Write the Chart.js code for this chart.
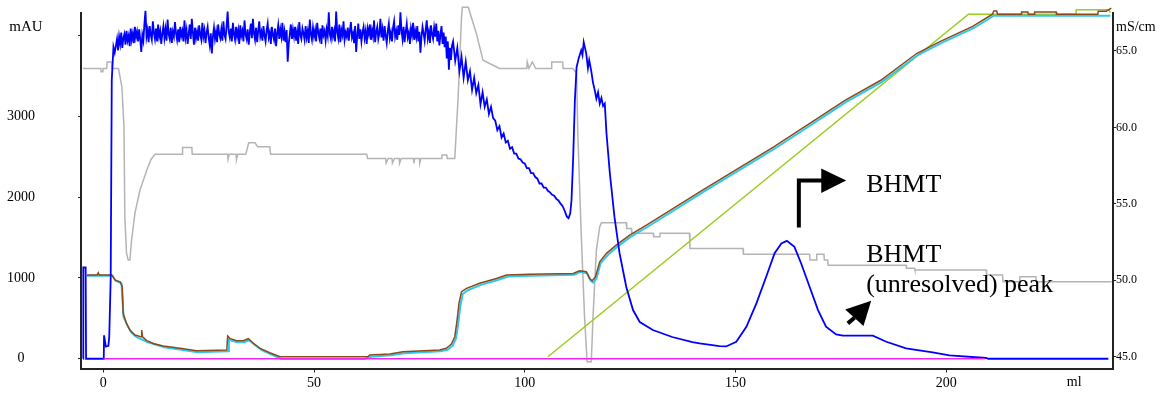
<!DOCTYPE html>
<html lang="en">
<head>
<meta charset="UTF-8" />
<title>BHMT chromatogram</title>
<script src="https://cdn.jsdelivr.net/npm/chart.js"></script>
<style>
  html, body { margin: 0; padding: 0; background: #fff; }
</style>
</head>
<body>
<canvas id="chromatogram" width="1170" height="393"></canvas>
<script>
// ---- axis ticks ----
const mlTicks = [0, 50, 100, 150, 200];
const mauTicks = [0, 1000, 2000, 3000, 4000];
const condTicks = [45, 50, 55, 60, 65];

// ---- UV 280 nm (mAU), blue ----
const uvHead = [[-4.8, 0], [-4.75, 1130], [-4.2, 1130], [-4.1, 0], [0.1, 0], [0.17, 290], [0.6, 150], [1.2, 160],
  [1.4, 270], [1.75, 1000], [2.0, 3450], [2.4, 3860], [2.7, 3790]];
// detector saturated, sampled every 0.25 ml from 3.0 ml (one row = 5 ml)
const uvNoiseStart = 3.0;
const uvNoiseStep = 0.25;
const uvNoise = [
  3880, 3960, 3820, 3990, 3900, 4040, 3850, 3970, 4020, 3890, 4060, 3940, 4000, 3870, 4090, 3950, 4030, 3910, 4110, 3980,
  4050, 3930, 4080, 3960, 3800, 4010, 3940, 4150, 4310, 3990, 4070, 3920, 4120, 4010, 3950, 4180, 4040, 3960, 4090, 3930,
  4140, 3990, 4060, 3900, 4030, 4120, 3970, 4080, 3940, 4200, 4020, 3960, 4100, 3910, 4050, 3990, 4170, 4030, 3950, 4080,
  3920, 4110, 4000, 4060, 3930, 4190, 3980, 4070, 3900, 4020, 4140, 3960, 4210, 4040, 3890, 4100, 3970, 4050, 3940, 4130,
  4010, 3950, 4160, 3990, 4070, 3910, 4040, 4110, 3970, 3880, 4030, 3780, 3990, 4100, 3960, 4050, 3920, 4140, 4020, 3970,
  4080, 3940, 4180, 4010, 3960, 4120, 4300, 4050, 3980, 4090, 3930, 4160, 4020, 3950, 4110, 3990, 4070, 3900, 4130, 4000,
  4060, 3930, 4190, 4020, 3960, 4080, 3890, 4040, 4150, 3970, 4210, 4030, 3950, 4100, 3920, 4060, 4180, 3990, 4050, 3940,
  4120, 4000, 3930, 4070, 4150, 3980, 4040, 3900, 4110, 4010, 3950, 4090, 3870, 4030, 4130, 3960, 4080, 3990, 4160, 3940,
  4050, 3920, 4070, 3680, 3900, 4020, 4140, 3960, 4080, 3990, 4110, 3940, 4050, 3900, 4170, 4010, 3960, 4090, 4030, 3950,
  4120, 3980, 4060, 3910, 4200, 4020, 3950, 4100, 3990, 4070, 3930, 4160, 4040, 3970, 4090, 3900, 4130, 4010, 4060, 3940,
  4080, 4000, 4290, 4020, 3960, 4110, 3990, 4060, 3930, 4300, 4050, 3970, 4140, 3920, 4070, 4010, 4180, 3950, 4040, 3990,
  4100, 3940, 4060, 4170, 3980, 4030, 3910, 4120, 3800, 4000, 4150, 3960, 4080, 3930, 4040, 4110, 3970, 4060, 3900, 4090,
  4020, 4140, 3950, 4070, 3990, 4190, 3920, 4050, 4110, 3960, 4030, 4210, 3980, 4080, 3940, 4120, 4000, 3910, 4060, 4150,
  3970, 4040, 3930, 4100, 4180, 3990, 4060, 3950, 4130, 4010, 4290, 4070, 3960, 4110, 3920, 4050, 4150, 3980, 4040, 3900,
  4090, 4010, 4160, 3950, 4060, 3980, 4120, 3930, 4050, 3790, 3990, 4110, 4030, 3940, 4080, 4190, 3970, 4050, 3910, 4130,
  4020, 3960, 4100, 3990, 4150, 3930, 4060, 3880, 4010, 4120, 3900, 4040, 3860, 3990, 3720, 3930, 3580, 3850, 3700, 3880
];
// falling edge, sampled every 0.5 ml from 83.0 ml
const uvDeclineStart = 83.0;
const uvDeclineStep = 0.5;
const uvDecline = [
  3930, 3690, 3850, 3560, 3740, 3480, 3680, 3450, 3560, 3330, 3480, 3290, 3390, 3150, 3300, 3120, 3210, 3030, 3120, 2980,
  2950, 2830, 2880, 2740, 2790, 2680, 2700, 2600, 2620, 2540, 2540, 2480, 2470, 2430, 2420, 2360, 2360, 2300, 2300, 2250,
  2230, 2170, 2170, 2120, 2120, 2080, 2060, 2030, 2020, 1980, 1960, 1920, 1890, 1830, 1760
];
const uvTail = [[110.4, 1740], [110.8, 1800], [111.1, 1964], [111.5, 2496], [111.9, 3200], [112.3, 3610], [112.8, 3720],
  [113.4, 3820], [113.7, 3760], [114.0, 3920], [114.3, 3850], [114.6, 3780], [115.0, 3600], [115.3, 3700], [115.8, 3560],
  [116.2, 3420], [116.6, 3330], [117.0, 3220], [117.4, 3300], [117.8, 3160], [118.2, 3230], [118.6, 3130], [119.0, 3160],
  [119.4, 2792], [120.2, 2297], [121.3, 1753], [122.5, 1307], [124.1, 888], [125.7, 603], [127.3, 455], [130.4, 356],
  [135.0, 269], [139.8, 207], [141.5, 190], [146.2, 157], [147.8, 152], [150.2, 210], [152.6, 396], [155.0, 689],
  [157.3, 1015], [159.3, 1308], [160.9, 1428], [162.2, 1460], [164.0, 1386], [165.6, 1180], [167.6, 891], [169.6, 603],
  [171.5, 396], [173.9, 302], [175.5, 285], [182.6, 285], [185.8, 210], [190.5, 129], [196.8, 79], [200.8, 42],
  [209.5, 9], [210.0, 0], [238.5, 0]];

// ---- second UV channel (mAU), magenta ----
const uvBaseline = [[0, 0], [209.2, 0]];

// ---- conductivity (mS/cm), brown and cyan ----
const condBrown = [[-3.9, 50.34], [-1.5, 50.34], [-1.2, 50.49], [-1.0, 50.34], [2.0, 50.34], [2.8, 50.01], [4.0, 49.9],
  [4.5, 49.58], [4.7, 47.84], [5.5, 47.18], [6.3, 46.75], [7.5, 46.42], [9.0, 46.3], [9.1, 46.75], [9.3, 46.3],
  [10.3, 46.05], [12.0, 45.85], [14.2, 45.7], [18.2, 45.55], [22.1, 45.39], [29.3, 45.44], [29.5, 46.35], [30.0, 46.2],
  [31.6, 46.05], [33.2, 46.05], [34.4, 46.18], [35.6, 45.88], [37.2, 45.55], [39.5, 45.26], [41.9, 45.0], [62.8, 45.0],
  [63.2, 45.11], [68.0, 45.18], [71.1, 45.33], [79.8, 45.44], [81.4, 45.55], [82.6, 45.83], [83.4, 46.31], [83.9, 47.29],
  [84.4, 48.49], [85.0, 49.25], [86.2, 49.47], [89.3, 49.8], [93.3, 50.12], [95.7, 50.34], [101.2, 50.39], [111.5, 50.45],
  [113.0, 50.62], [114.6, 50.56], [115.4, 50.12], [116.0, 49.97], [116.8, 50.23], [117.8, 51.21], [119.4, 51.76],
  [121.7, 52.3], [124.9, 52.95], [128.9, 53.61], [142.2, 55.9], [159.1, 58.73], [176.1, 61.78], [184.5, 63.08],
  [193.0, 64.83], [198.4, 65.59], [206.3, 66.6], [211.0, 67.4], [211.3, 67.61], [212.0, 67.61], [212.2, 67.4],
  [217.8, 67.4], [217.9, 67.55], [219.4, 67.55], [219.5, 67.4], [220.9, 67.4], [221.0, 67.55], [226.1, 67.55],
  [226.2, 67.4], [236.0, 67.4], [236.1, 67.6], [238.0, 67.6], [239.2, 67.8]];
const condCyan = [[-3.9, 50.3], [2.2, 50.3], [3.0, 49.95], [4.3, 49.8], [4.8, 47.6], [5.7, 47.05], [6.6, 46.6],
  [7.8, 46.3], [10.6, 45.95], [14.5, 45.62], [18.5, 45.45], [22.4, 45.3], [29.6, 45.35], [29.8, 46.1], [31.8, 45.95],
  [33.4, 45.95], [34.6, 46.08], [35.9, 45.78], [37.5, 45.45], [39.8, 45.15], [42.2, 44.85], [62.0, 44.85], [63.5, 45.0],
  [68.3, 45.1], [71.4, 45.22], [80.0, 45.36], [81.7, 45.45], [82.9, 45.72], [83.7, 46.2], [84.2, 47.1], [84.7, 48.3],
  [85.3, 49.1], [86.5, 49.35], [89.6, 49.7], [93.6, 50.02], [96.0, 50.25], [101.5, 50.3], [111.8, 50.36], [113.2, 50.55],
  [114.8, 50.45], [115.6, 50.0], [116.2, 49.85], [117.0, 50.1], [118.0, 51.1], [119.7, 51.65], [122.0, 52.2],
  [125.2, 52.85], [129.2, 53.5], [142.5, 55.8], [159.4, 58.62], [176.4, 61.68], [184.8, 62.98], [193.3, 64.73],
  [198.7, 65.5], [206.6, 66.5], [211.3, 67.3], [239.0, 67.3]];

// ---- gradient (plotted on the mS/cm scale), green ----
const gradient = [[105.5, 45.0], [205.3, 67.4], [230.8, 67.4], [230.9, 67.7], [238.5, 67.7], [239.0, 67.5]];

// ---- pressure / pH trace (plotted on the mS/cm scale), grey ----
const greyTrace = [[-4.8, 63.85], [-0.6, 63.85], [-0.5, 63.63], [-0.2, 63.63], [-0.1, 63.85], [0.8, 63.85], [0.9, 64.28],
  [2.0, 64.28], [2.1, 63.85], [3.6, 63.85], [4.4, 62.65], [4.9, 60.03], [5.1, 54.15], [5.5, 51.78], [5.9, 51.32],
  [6.3, 51.32], [6.7, 52.63], [7.5, 54.39], [8.7, 55.9], [10.3, 57.2], [11.3, 57.9], [12.3, 58.25], [18.7, 58.25],
  [18.8, 58.69], [21.0, 58.69], [21.1, 58.25], [29.5, 58.25], [29.6, 57.9], [29.9, 58.25], [31.5, 58.25], [31.6, 57.9],
  [31.9, 58.25], [33.8, 58.25], [34.5, 58.99], [36.0, 58.99], [36.6, 58.73], [39.5, 58.73], [39.7, 58.25], [62.5, 58.25],
  [62.7, 57.97], [67.0, 57.97], [67.1, 57.66], [67.6, 57.97], [68.5, 57.97], [68.6, 57.66], [69.1, 57.97], [70.2, 57.97],
  [70.3, 57.66], [70.7, 57.97], [73.6, 57.97], [73.7, 57.66], [73.9, 57.97], [75.0, 57.97], [75.1, 57.66], [75.4, 57.97],
  [80.3, 57.97], [80.4, 58.2], [81.5, 58.2], [81.6, 57.97], [83.4, 57.97], [84.2, 61.99], [85.0, 67.2], [85.2, 67.86],
  [86.6, 67.86], [88.5, 66.16], [90.1, 64.39], [93.3, 63.95], [94.0, 63.85], [100.5, 63.85], [100.6, 64.28], [101.0, 63.85],
  [101.8, 64.28], [102.6, 63.85], [106.3, 63.85], [106.4, 64.28], [109.0, 64.28], [109.1, 63.85], [111.4, 63.85],
  [112.3, 63.54], [112.6, 59.62], [113.4, 53.08], [114.2, 47.59], [114.8, 44.67], [115.8, 44.67], [116.2, 47.59],
  [117.0, 51.97], [117.8, 53.5], [118.2, 53.76], [124.1, 53.76], [124.2, 53.39], [125.3, 53.39], [125.4, 53.07],
  [130.5, 53.07], [130.6, 52.84], [132.0, 52.84], [132.1, 53.07], [139.1, 53.07], [139.2, 52.08], [151.8, 52.08],
  [151.9, 51.71], [167.6, 51.71], [167.7, 51.32], [169.2, 51.32], [169.3, 51.71], [171.0, 51.71], [171.1, 51.32],
  [171.9, 51.32], [172.0, 50.99], [190.5, 50.99], [190.6, 50.78], [192.5, 50.78], [192.6, 50.67], [209.5, 50.67],
  [209.6, 50.34], [213.4, 50.34], [213.5, 49.9], [217.4, 49.9], [217.5, 50.23], [221.3, 50.23], [221.4, 49.9],
  [239.3, 49.9]];

const SERIF = "'Liberation Serif', 'Times New Roman', serif";
Chart.defaults.font.family = SERIF;
Chart.defaults.color = '#000';

function toPoints(pairs) {
    return pairs.map(p => ({ x: p[0], y: p[1] }));
}

function sampled(values, start, step) {
    return values.map((v, i) => ({ x: start + i * step, y: v }));
}

const uvPoints = toPoints(uvHead)
    .concat(sampled(uvNoise, uvNoiseStart, uvNoiseStep))
    .concat(sampled(uvDecline, uvDeclineStart, uvDeclineStep))
    .concat(toPoints(uvTail));

function line(data, color, width, axis) {
    return {
        data: data,
        yAxisID: axis,
        borderColor: color,
        borderWidth: width,
        pointRadius: 0,
        tension: 0,
        fill: false,
        clip: false
    };
}

// the big tick padding used to centre the left labels would also pad the chart top/bottom
function fitVertical(width) {
    return s => {
        s.width = width;
        s.paddingTop = 8;
        s.paddingBottom = 8;
    };
}

// arrows and labels, placed in data units (ml / mAU)
const annotate = {
    id: 'annotate',
    afterDraw(chart) {
        const ctx = chart.ctx;
        const x = chart.scales.x;
        const y = chart.scales.y;
        const px = v => x.getPixelForValue(v);
        const py = v => y.getPixelForValue(v);
        ctx.save();
        ctx.fillStyle = '#000';
        ctx.strokeStyle = '#000';

        // elbow arrow pointing at "BHMT"
        ctx.lineWidth = 4;
        ctx.beginPath();
        ctx.moveTo(px(165.05), py(1626));
        ctx.lineTo(px(165.05), py(2208));
        ctx.lineTo(px(170.6), py(2208));
        ctx.stroke();
        ctx.beginPath();
        ctx.moveTo(px(170.36), py(2356));
        ctx.lineTo(px(176.29), py(2208));
        ctx.lineTo(px(170.36), py(2054));
        ctx.closePath();
        ctx.fill();

        // small arrow pointing at the shoulder label
        ctx.beginPath();
        ctx.moveTo(px(178.25), py(507));
        ctx.lineTo(px(176.67), py(438));
        ctx.stroke();
        ctx.beginPath();
        ctx.moveTo(px(182.22), py(718));
        ctx.lineTo(px(176.05), py(611));
        ctx.lineTo(px(180.39), py(405));
        ctx.closePath();
        ctx.fill();

        ctx.font = '26px ' + SERIF;
        ctx.textAlign = 'left';
        ctx.textBaseline = 'alphabetic';
        ctx.fillText('BHMT', px(181.03), py(2067));
        ctx.fillText('BHMT', px(181.03), py(1200));
        ctx.fillText('(unresolved) peak', px(181.03), py(829));

        // axis units
        ctx.font = '15px ' + SERIF;
        ctx.textAlign = 'center';
        ctx.textBaseline = 'middle';
        ctx.fillText('mAU', y.left + 26, py(4000) - 8.5);
        ctx.font = '14px ' + SERIF;
        ctx.fillText('ml', px(230.4), chart.chartArea.bottom + 14);
        ctx.textAlign = 'left';
        ctx.fillText('mS/cm', chart.scales.y1.left + 3, py(4000) - 8.5);
        ctx.restore();
    }
};

const axisColor = '#222';

new Chart(document.getElementById('chromatogram'), {
    type: 'line',
    data: {
        datasets: [
            line(toPoints(uvBaseline), '#f024f0', 1.5, 'y'),
            line(uvPoints, '#0000ff', 1.8, 'y'),
            line(toPoints(condBrown), '#8b4a18', 1.5, 'y1'),
            line(toPoints(condCyan), '#30c8f0', 2, 'y1'),
            line(toPoints(gradient), '#9acd1e', 1.5, 'y1'),
            line(toPoints(greyTrace), '#b4b4b4', 1.5, 'y1')
        ]
    },
    options: {
        responsive: false,
        animation: false,
        devicePixelRatio: 1,
        layout: { padding: { top: 13, left: 0, right: 0, bottom: 0 } },
        plugins: {
            legend: { display: false },
            tooltip: { enabled: false }
        },
        scales: {
            x: {
                type: 'linear',
                position: 'bottom',
                min: -5.3,
                max: 239.6,
                grid: { display: true, drawOnChartArea: false, drawTicks: true, tickLength: 4, color: axisColor },
                border: { display: true, color: axisColor, width: 2 },
                ticks: { font: { size: 14 }, color: '#000', padding: 2, maxRotation: 0, autoSkip: false },
                afterBuildTicks: s => { s.ticks = mlTicks.map(v => ({ value: v })); },
                afterFit: s => { s.height = 24.5; }
            },
            y: {
                type: 'linear',
                position: 'left',
                min: -121,
                max: 4282,
                grid: { display: true, drawOnChartArea: false, drawTicks: true, tickLength: 3, color: axisColor },
                border: { display: true, color: axisColor, width: 2 },
                ticks: {
                    font: { size: 14 },
                    color: '#000',
                    crossAlign: 'center',
                    padding: 43,
                    callback: v => (v === 4000 ? '' : String(v))
                },
                afterBuildTicks: s => { s.ticks = mauTicks.map(v => ({ value: v })); },
                afterFit: fitVertical(81)
            },
            y1: {
                type: 'linear',
                position: 'right',
                min: 44.23,
                max: 67.48,
                grid: { display: true, drawOnChartArea: false, drawTicks: true, tickLength: 3, color: axisColor },
                border: { display: true, color: axisColor, width: 2 },
                ticks: { font: { size: 12 }, color: '#000', padding: 0, callback: v => v.toFixed(1) },
                afterBuildTicks: s => { s.ticks = condTicks.map(v => ({ value: v })); },
                afterFit: fitVertical(57)
            }
        }
    },
    plugins: [annotate]
});
</script>
</body>
</html>
